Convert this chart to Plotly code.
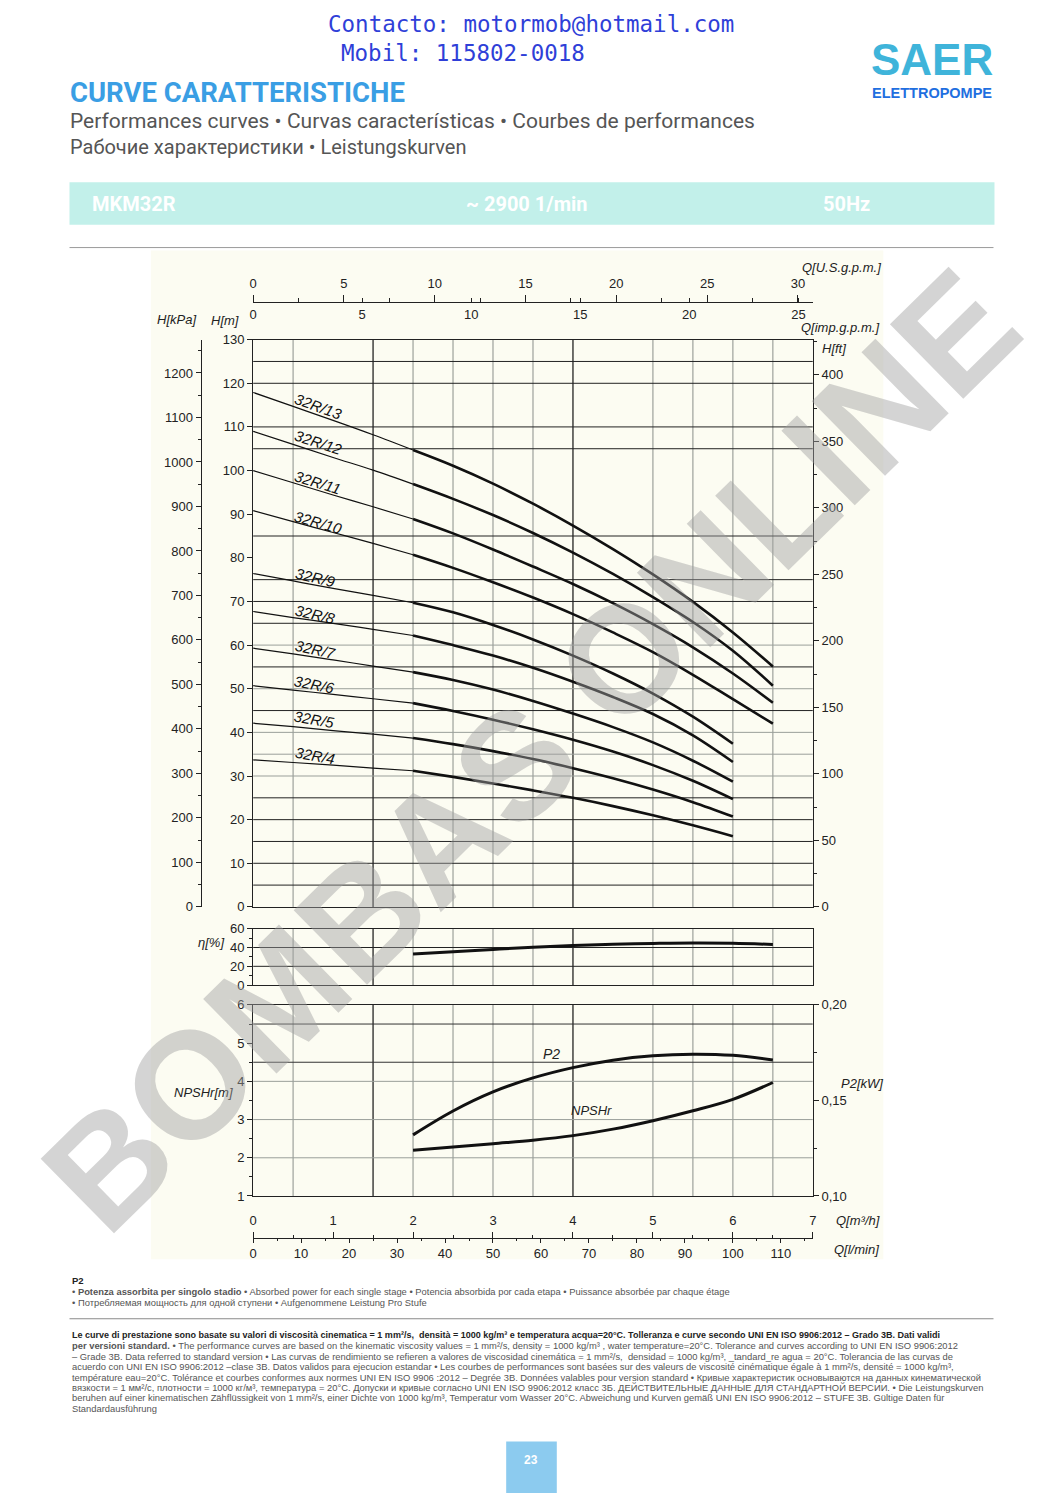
import plotly.graph_objects as go

W, H = 1062, 1501


def px(x):
    return x / W


def py(y):
    return 1 - y / H


# ---------------- data ----------------
Q_POINTS = [0, 0.5, 1.0, 1.5, 2.0, 2.5, 3.0, 3.5, 4.0, 4.5, 5.0, 5.5, 6.0, 6.5]  # m3/h

H_13 = [117.9, 114.7, 111.5, 108.2, 104.7, 101.1, 97.0, 92.4, 87.4, 82.0, 76.2, 69.9, 62.9, 55.1]
H_12 = [109.0, 106.0, 103.0, 100.1, 96.9, 93.5, 89.8, 85.7, 81.2, 76.3, 71.0, 65.3, 58.7, 50.7]
H_11 = [100.0, 97.2, 94.4, 91.7, 88.9, 85.6, 81.9, 78.0, 74.0, 69.6, 64.8, 59.5, 53.5, 46.8]
H_10 = [90.8, 88.3, 85.8, 83.3, 80.7, 77.7, 74.4, 70.9, 67.1, 62.9, 58.4, 53.2, 47.6, 42.0]
H_9 = [76.4, 74.7, 73.0, 71.4, 69.7, 67.5, 64.6, 61.3, 57.6, 53.5, 48.9, 43.6, 37.4]
H_8 = [67.7, 66.3, 65.0, 63.6, 62.2, 60.0, 57.6, 54.8, 51.6, 48.1, 44.2, 39.3, 33.2]
H_7 = [59.3, 58.0, 56.6, 55.2, 53.8, 52.0, 49.8, 47.2, 44.3, 41.2, 37.7, 33.5, 28.7]
H_6 = [50.7, 49.7, 48.7, 47.7, 46.7, 44.9, 42.9, 40.7, 38.3, 35.6, 32.5, 28.9, 24.7]
H_5 = [42.1, 41.3, 40.4, 39.6, 38.7, 37.3, 35.7, 33.9, 31.8, 29.5, 26.9, 24.0, 20.7]
H_4 = [33.7, 33.1, 32.5, 31.8, 31.2, 29.8, 28.3, 26.7, 25.0, 23.1, 21.0, 18.7, 16.2]

MODELS = ["32R/13", "32R/12", "32R/11", "32R/10", "32R/9", "32R/8", "32R/7", "32R/6", "32R/5", "32R/4"]
HEADS = [H_13, H_12, H_11, H_10, H_9, H_8, H_7, H_6, H_5, H_4]

Q_OPER = [2.0, 2.5, 3.0, 3.5, 4.0, 4.5, 5.0, 5.5, 6.0, 6.5]
ETA = [33.0, 35.6, 38.0, 40.3, 42.2, 43.5, 44.3, 44.8, 44.5, 43.2]
P2_KW = [0.132, 0.1445, 0.1545, 0.1618, 0.1672, 0.1711, 0.1734, 0.1742, 0.1736, 0.1712]
NPSHR = [2.20, 2.28, 2.37, 2.46, 2.58, 2.75, 2.97, 3.23, 3.53, 3.97]

# label placement (layout)
LABEL_Q = [0.82, 0.82, 0.81, 0.82, 0.78, 0.78, 0.78, 0.77, 0.77, 0.77]
LABEL_H = [114.7, 106.4, 97.2, 88.2, 75.4, 67.1, 59.0, 51.0, 43.0, 34.6]
LABEL_ANGLE = [20, 18, 17, 16, 13, 13, 12, 11, 10, 10]

# axis tick values
H_M_TICKS = list(range(0, 131, 10))
KPA_TICKS = list(range(0, 1201, 100))
FT_TICKS = list(range(0, 401, 50))
USGPM_TICKS = list(range(0, 31, 5))
IMPGPM_TICKS = list(range(0, 26, 5))
M3H_TICKS = list(range(0, 8))
LMIN_TICKS = list(range(0, 111, 10))
ETA_TICKS = [0, 20, 40, 60]
NPSH_TICKS = [1, 2, 3, 4, 5, 6]
P2_TICKS = [0.10, 0.15, 0.20]
P2_TICKTEXT = ["0,10", "0,15", "0,20"]

# gridlines
GRID_Q_DARK = [1.5, 4.0]
GRID_Q_LIGHT = [0.5, 2.0, 2.5, 3.0, 3.5, 5.0, 5.5, 6.0, 6.5]
GRID_H_DARK = [5, 10, 15, 20, 25, 45, 55, 65, 70, 75, 85, 105, 110, 120, 125]
GRID_H_LIGHT = [30, 35, 40, 50, 60]
GRID_ETA = [20, 40]
GRID_NPSH_DARK = [4.5, 5.5]
GRID_NPSH_LIGHT = [2, 3, 4]

# conversions
M_TO_KPA = 9.80665
M_TO_FT = 1 / 0.3048
M3H_TO_USGPM = 4.40287
M3H_TO_IMPGPM = 3.66615
M3H_TO_LMIN = 1000 / 60

Q_MAX = 7.0
H_MAX = 130.0

fig = go.Figure()

# ---------------- pump curves ----------------
for name, hv in zip(MODELS, HEADS):
    q = Q_POINTS[: len(hv)]
    fig.add_trace(go.Scatter(x=q[:5], y=hv[:5], mode="lines", line=dict(color="#111", width=1.2, shape="spline"),
                             hoverinfo="skip", showlegend=False, xaxis="x", yaxis="y"))
    fig.add_trace(go.Scatter(x=q[4:], y=hv[4:], mode="lines", line=dict(color="#111", width=2.6, shape="spline"),
                             name=name, showlegend=False, xaxis="x", yaxis="y"))

fig.add_trace(go.Scatter(x=Q_OPER, y=ETA, mode="lines", line=dict(color="#111", width=3, shape="spline"),
                         showlegend=False, xaxis="x2", yaxis="y2"))
fig.add_trace(go.Scatter(x=Q_OPER, y=NPSHR, mode="lines", line=dict(color="#111", width=3, shape="spline"),
                         showlegend=False, xaxis="x3", yaxis="y3"))
fig.add_trace(go.Scatter(x=Q_OPER, y=P2_KW, mode="lines", line=dict(color="#111", width=3, shape="spline"),
                         showlegend=False, xaxis="x3", yaxis="y4"))

# dummy traces so the extra axes exist
for xa, ya in [("x4", "y"), ("x5", "y"), ("x", "y5"), ("x", "y6"), ("x6", "y3"), ("x7", "y3")]:
    fig.add_trace(go.Scatter(x=[0], y=[0], mode="markers", marker=dict(opacity=0, size=1),
                             hoverinfo="skip", showlegend=False, xaxis=xa, yaxis=ya))

# ---------------- layout / axes ----------------
XD = [px(251), px(815)]
TICKFONT = dict(family="Liberation Sans, Arial", size=13, color="#222")
LC = "#222"


def base_axis(**kw):
    d = dict(showgrid=False, zeroline=False, showline=True, linecolor=LC, linewidth=1,
             tickfont=TICKFONT, tickcolor=LC, ticks="outside", ticklen=5, fixedrange=True)
    d.update(kw)
    return d


layout = dict(
    width=W, height=H, autosize=False,
    margin=dict(l=0, r=0, t=0, b=0),
    paper_bgcolor="white", plot_bgcolor="rgba(0,0,0,0)",
    showlegend=False,
    xaxis=base_axis(domain=XD, range=[0, Q_MAX], anchor="y", mirror=True, ticks="", showticklabels=False),
    yaxis=base_axis(domain=[py(909), py(336)], range=[0, H_MAX], anchor="x", mirror=True,
                    tickvals=H_M_TICKS),
    xaxis2=base_axis(domain=XD, range=[0, Q_MAX], anchor="y2", mirror=True, ticks="", showticklabels=False),
    yaxis2=base_axis(domain=[py(988), py(931)], range=[0, 60], anchor="x2", mirror=True, tickvals=ETA_TICKS,
                     minor=dict(dtick=10, tick0=0, ticklen=3, tickcolor=LC, ticks="outside", showgrid=False)),
    xaxis3=base_axis(domain=XD, range=[0, Q_MAX], anchor="y3", mirror=True, ticks="", showticklabels=False),
    yaxis3=base_axis(domain=[py(1201), py(1008)], range=[1, 6], anchor="x3", mirror=True, tickvals=NPSH_TICKS,
                     minor=dict(dtick=0.5, tick0=0, ticklen=3, tickcolor=LC, ticks="outside", showgrid=False)),
    yaxis4=base_axis(overlaying="y3", side="right", anchor="x3", range=[0.10, 0.20],
                     tickvals=P2_TICKS, ticktext=P2_TICKTEXT,
                     minor=dict(dtick=0.025, tick0=0.1, ticklen=3, tickcolor=LC, ticks="outside", showgrid=False)),
    yaxis5=base_axis(overlaying="y", anchor="free", position=px(198), side="left",
                     range=[0, H_MAX * M_TO_KPA], tickvals=KPA_TICKS,
                     minor=dict(dtick=50, tick0=0, ticklen=3, tickcolor=LC, ticks="outside", showgrid=False)),
    yaxis6=base_axis(overlaying="y", anchor="x", side="right",
                     range=[0, H_MAX * M_TO_FT], tickvals=FT_TICKS,
                     minor=dict(dtick=25, tick0=0, ticklen=3, tickcolor=LC, ticks="outside", showgrid=False)),
    xaxis4=base_axis(overlaying="x", anchor="free", position=py(298), side="top",
                     range=[0, Q_MAX * M3H_TO_USGPM], tickvals=USGPM_TICKS, ticklen=7, ticklabelstandoff=2,
                     minor=dict(dtick=2.5, tick0=0, ticklen=4, tickcolor=LC, ticks="outside", showgrid=False)),
    xaxis5=base_axis(overlaying="x", anchor="free", position=py(298), side="bottom",
                     range=[0, Q_MAX * M3H_TO_IMPGPM], tickvals=IMPGPM_TICKS, ticks="inside", ticklen=4,
                     ticklabelstandoff=0),
    xaxis6=base_axis(overlaying="x3", anchor="free", position=py(1243), side="top",
                     range=[0, Q_MAX], tickvals=M3H_TICKS, ticklen=6, ticklabelstandoff=1,
                     minor=dict(dtick=0.5, tick0=0, ticklen=3, tickcolor=LC, ticks="outside", showgrid=False)),
    xaxis7=base_axis(overlaying="x3", anchor="free", position=py(1243), side="bottom",
                     range=[0, Q_MAX * M3H_TO_LMIN], tickvals=LMIN_TICKS, ticklen=4, ticklabelstandoff=0,
                     minor=dict(dtick=5, tick0=0, ticklen=2, tickcolor=LC, ticks="outside", showgrid=False)),
)

shapes = []
# page decorations
shapes.append(dict(type="rect", xref="paper", yref="paper", x0=px(148), x1=px(886), y0=py(1265), y1=py(246),
                   fillcolor="#fcfcf2", line=dict(width=0), layer="below"))
shapes.append(dict(type="rect", xref="paper", yref="paper", x0=px(66), x1=px(998), y0=py(220), y1=py(177),
                   fillcolor="#c2f0ea", line=dict(width=0), layer="below"))
shapes.append(dict(type="line", xref="paper", yref="paper", x0=px(66), x1=px(997), y0=py(243), y1=py(243),
                   line=dict(color="#9a9a9a", width=1)))
shapes.append(dict(type="line", xref="paper", yref="paper", x0=px(66), x1=px(997), y0=py(1325), y1=py(1325),
                   line=dict(color="#8a8a8a", width=1)))
shapes.append(dict(type="rect", xref="paper", yref="paper", x0=px(506), x1=px(557), y0=py(1501), y1=py(1449),
                   fillcolor="#8ccbef", line=dict(width=0)))


def vgrid(xref, yref, y0, y1):
    for q in GRID_Q_LIGHT:
        shapes.append(dict(type="line", xref=xref, yref=yref, x0=q, x1=q, y0=y0, y1=y1,
                           line=dict(color="#8a8f8a", width=1), layer="below"))
    for q in GRID_Q_DARK:
        shapes.append(dict(type="line", xref=xref, yref=yref, x0=q, x1=q, y0=y0, y1=y1,
                           line=dict(color="#111", width=1.2), layer="below"))


def hgrid(xref, yref, vals, color, width):
    for v in vals:
        shapes.append(dict(type="line", xref=xref, yref=yref, x0=0, x1=Q_MAX, y0=v, y1=v,
                           line=dict(color=color, width=width), layer="below"))


vgrid("x", "y", 0, H_MAX)
hgrid("x", "y", GRID_H_DARK, "#222", 1)
hgrid("x", "y", GRID_H_LIGHT, "#9a9f9a", 1)
vgrid("x2", "y2", 0, 60)
hgrid("x2", "y2", GRID_ETA, "#222", 1)
vgrid("x3", "y3", 1, 6)
hgrid("x3", "y3", GRID_NPSH_DARK, "#333", 1)
hgrid("x3", "y3", GRID_NPSH_LIGHT, "#9a9f9a", 1)

layout["shapes"] = shapes

ann = []


def text(x, y, t, size, color="#222", family="Liberation Sans, Arial", xanchor="left", yanchor="middle", angle=0):
    ann.append(dict(x=px(x), y=py(y), xref="paper", yref="paper", text=t, showarrow=False,
                    xanchor=xanchor, yanchor=yanchor, textangle=angle,
                    font=dict(size=size, color=color, family=family)))


# header
text(531, 17, "Contacto: motormob@hotmail.com", 22.5, "#2f3fd8", "DejaVu Sans Mono", "center")
text(462, 46, "Mobil: 115802-0018", 22.5, "#2f3fd8", "DejaVu Sans Mono", "center")
text(64, 86, "<b>CURVE CARATTERISTICHE</b>", 27.5, "#3a9ee4", "Roboto")
text(64, 115, "Performances curves • Curvas características • Courbes de performances", 21, "#555", "Roboto")
text(64, 141, "Рабочие характеристики • Leistungskurven", 20, "#555", "Roboto")
text(935, 53, "<b>SAER</b>", 44, "#3fb4da", "Liberation Sans", "center")
text(935, 87, "<b>ELETTROPOMPE</b>", 14.5, "#1f6fe0", "Liberation Sans", "center")
text(87, 199, "<b>MKM32R</b>", 20, "white", "Roboto")
text(527, 199, "<b>~ 2900 1/min</b>", 20, "white", "Roboto", "center")
text(823, 199, "<b>50Hz</b>", 20, "white", "Roboto")

# axis titles
text(886, 263, "<i>Q[U.S.g.p.m.]</i>", 13, xanchor="right")
text(884, 324, "<i>Q[imp.g.p.m.]</i>", 13, xanchor="right")
text(152, 316, "<i>H[kPa]</i>", 13)
text(207, 317, "<i>H[m]</i>", 13)
text(822, 345, "<i>H[ft]</i>", 13)
text(193, 945, "<i>η[%]</i>", 13)
text(169, 1096, "<i>NPSHr[m]</i>", 13)
text(841, 1087, "<i>P2[kW]</i>", 13)
text(836, 1226, "<i>Q[m³/h]</i>", 13)
text(834, 1255, "<i>Q[l/min]</i>", 13)
text(552, 1058, "<i>P2</i>", 14, xanchor="center")
text(592, 1115, "<i>NPSHr</i>", 13, xanchor="center")

# curve labels
for name, lq, lh, ang in zip(MODELS, LABEL_Q, LABEL_H, LABEL_ANGLE):
    ann.append(dict(x=lq, y=lh, xref="x", yref="y", text="<i>" + name + "</i>", showarrow=False,
                    textangle=ang, xanchor="center", yanchor="middle",
                    font=dict(size=15, color="#111", family="Liberation Sans, Arial")))

# footer
FS = 9.4
FC = "#555"
text(66, 1286, "<b>P2</b>", 9.5, "#222")
text(66, 1297, "• <b>Potenza assorbita per singolo stadio</b> • Absorbed power for each single stage • Potencia absorbida por cada etapa • Puissance absorbée par chaque étage", FS, FC)
text(66, 1309, "• Потребляемая мощность для одной ступени • Aufgenommene Leistung Pro Stufe", FS, FC)
FOOT = [
    "<b>Le curve di prestazione sono basate su valori di viscosità cinematica = 1 mm²/s,  densità = 1000 kg/m³ e temperatura acqua=20°C. Tolleranza e curve secondo UNI EN ISO 9906:2012 – Grado 3B. Dati validi</b>",
    "<b>per versioni standard.</b> • The performance curves are based on the kinematic viscosity values = 1 mm²/s, density = 1000 kg/m³ , water temperature=20°C. Tolerance and curves according to UNI EN ISO 9906:2012",
    "– Grade 3B. Data referred to standard version • Las curvas de rendimiento se refieren a valores de viscosidad cinemática = 1 mm²/s,  densidad = 1000 kg/m³, _tandard_re agua = 20°C. Tolerancia de las curvas de",
    "acuerdo con UNI EN ISO 9906:2012 –clase 3B. Datos validos para ejecucion estandar • Les courbes de performances sont basées sur des valeurs de viscosité cinématique égale à 1 mm²/s, densité = 1000 kg/m³,",
    "température eau=20°C. Tolérance et courbes conformes aux normes UNI EN ISO 9906 :2012 – Degrée 3B. Données valables pour version standard • Кривые характеристик основываются на данных кинематической",
    "вязкости = 1 мм²/с, плотности = 1000 кг/м³, температура = 20°C. Допуски и кривые согласно UNI EN ISO 9906:2012 класс 3Б. ДЕЙСТВИТЕЛЬНЫЕ ДАННЫЕ ДЛЯ СТАНДАРТНОЙ ВЕРСИИ. • Die Leistungskurven",
    "beruhen auf einer kinematischen Zähflüssigkeit von 1 mm²/s, einer Dichte von 1000 kg/m³, Temperatur vom Wasser 20°C. Abweichung und Kurven gemäß UNI EN ISO 9906:2012 – STUFE 3B. Gültige Daten für",
    "Standardausführung",
]
FOOT_Y = [1341, 1352, 1363, 1373, 1384, 1394, 1405, 1416]
for t, yy in zip(FOOT, FOOT_Y):
    text(66, yy, t, FS if not t.startswith("<b>Le") else 9.0, "#222" if t.startswith("<b>Le") else FC)

text(531, 1468, "<b>23</b>", 12, "white", "Liberation Sans", "center")

# watermark
ann.append(dict(x=px(530), y=py(750), xref="paper", yref="paper", text="<b>BOMBAS ONLINE</b>", showarrow=False,
                textangle=-44.5, xanchor="center", yanchor="middle",
                font=dict(size=152, color="rgba(160,160,160,0.45)", family="Liberation Sans, Arial")))

layout["annotations"] = ann
fig.update_layout(**layout)
fig.write_html("out.html", config={"displayModeBar": False},
               post_script="document.body.style.margin='0';document.body.style.overflow='hidden';")
